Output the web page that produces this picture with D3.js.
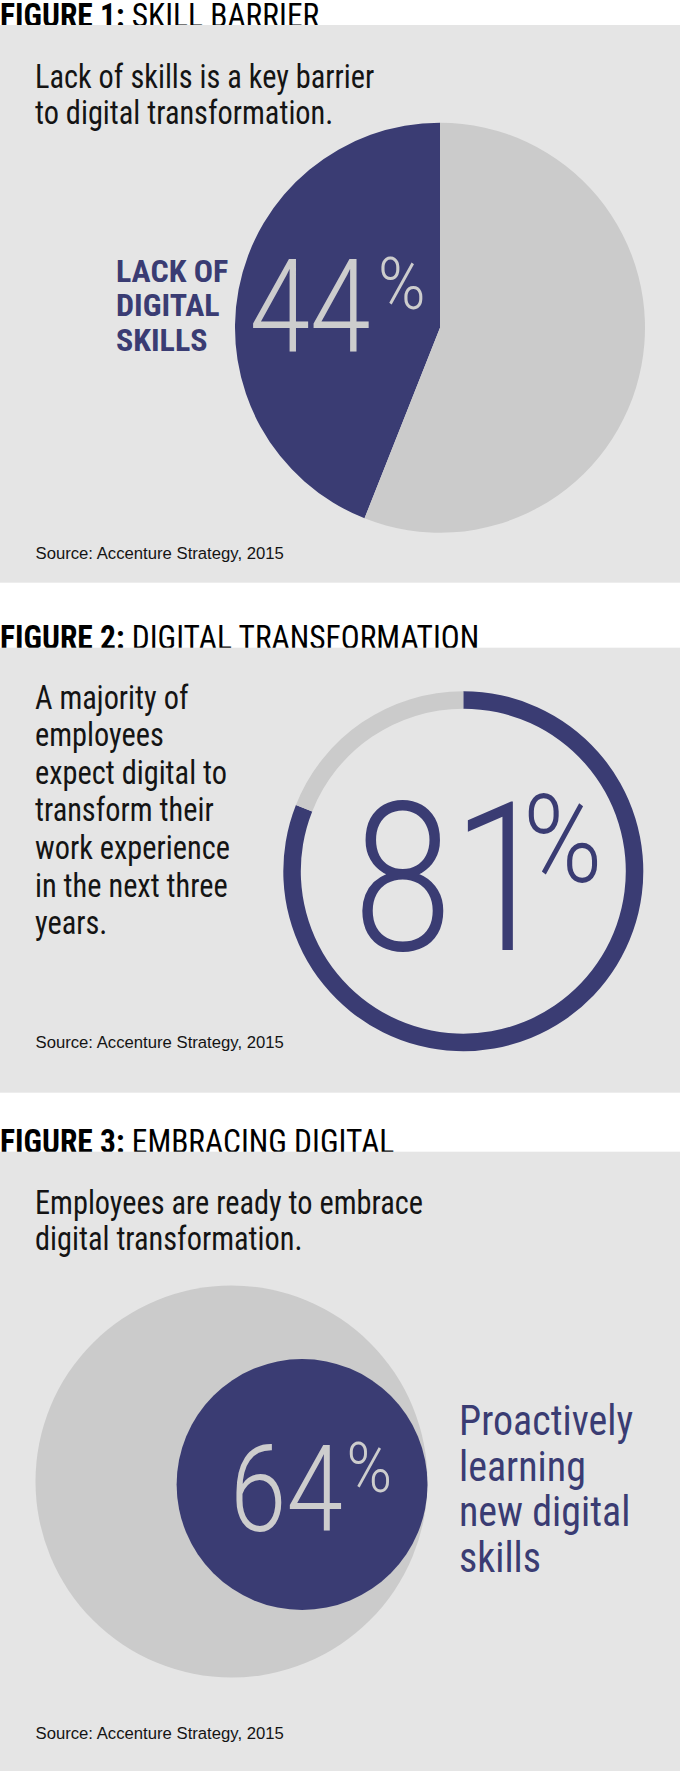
<!DOCTYPE html>
<html><head><meta charset="utf-8">
<script src="https://cdn.jsdelivr.net/npm/d3@7"></script>
<style>
html,body{margin:0;padding:0;background:#fff;}
svg{display:block;}
</style></head>
<body>
<svg id="chart" width="680" height="1771"></svg>
<script>
// ---------- data ----------
const figureLabels = ["FIGURE 1:", "FIGURE 2:", "FIGURE 3:"];
const figureTitles = ["SKILL BARRIER", "DIGITAL TRANSFORMATION", "EMBRACING DIGITAL"];
const subtitle1 = ["Lack of skills is a key barrier", "to digital transformation."];
const subtitle2 = ["A majority of", "employees", "expect digital to", "transform their", "work experience", "in the next three", "years."];
const subtitle3 = ["Employees are ready to embrace", "digital transformation."];
const categories1 = ["Lack of digital skills", "Other"];
const values1 = [44, 56];
const categories2 = ["Expect digital to transform work", "Other"];
const values2 = [81, 19];
const categories3 = ["All employees", "Proactively learning new digital skills"];
const values3 = [100, 64];
const label1 = ["LACK OF", "DIGITAL", "SKILLS"];
const label3 = ["Proactively", "learning", "new digital", "skills"];
const sourceText = "Source: Accenture Strategy, 2015";

// ---------- style ----------
const NAVY = "#3a3c73", PIEGRAY = "#cbcbcb", PANEL = "#e5e5e5", INK = "#141414", LIGHTNUM = "#cdcdcd";
const NARROW = "'Liberation Sans Narrow','Arial Narrow','Roboto Condensed',sans-serif";
const SANS = "'Liberation Sans',Arial,Helvetica,sans-serif";
const THIN = "Roboto,Lato,'Open Sans',sans-serif";

const svg = d3.select("#chart");
const panels = [[25, 582.7], [647.7, 1092.7], [1151.7, 1771]];

// titles (drawn first, panels overlap their foot)
panels.forEach((p, i) => {
  const t = svg.append("text")
    .attr("transform", `translate(0,${p[0] + 1.5}) scale(0.94,1)`)
    .attr("font-family", NARROW).attr("font-size", 33.5).attr("fill", "#000");
  t.append("tspan").attr("font-weight", 700).text(figureLabels[i]);
  t.append("tspan").attr("font-weight", 400).text(" " + figureTitles[i]);
});

// panels
svg.selectAll("rect.panel").data(panels).join("rect")
  .attr("class", "panel")
  .attr("x", 0).attr("y", d => d[0]).attr("width", 680).attr("height", d => d[1] - d[0])
  .attr("fill", PANEL);

function lines(arr, x, y0, dy, size, opts = {}) {
  const g = svg.append("g");
  arr.forEach((s, i) => {
    g.append("text")
      .attr("transform", `translate(${x},${y0 + i * dy}) scale(${opts.sx || 1},1)`)
      .attr("font-family", opts.family || NARROW)
      .attr("font-size", size)
      .attr("font-weight", opts.weight || 400)
      .attr("fill", opts.fill || INK)
      .text(s);
  });
  return g;
}

// ---------- Figure 1: pie ----------
const c1 = {x: 440, y: 327.7}, r1 = 205;
const share1 = values1[0] / d3.sum(values1);
const pie1 = d3.pie().sort(null)
  .startAngle(-share1 * 2 * Math.PI)
  .endAngle(2 * Math.PI - share1 * 2 * Math.PI);
const arc1 = d3.arc().innerRadius(0).outerRadius(r1);
const color1 = d3.scaleOrdinal().domain(categories1).range([NAVY, PIEGRAY]);
svg.append("g").attr("transform", `translate(${c1.x},${c1.y})`)
  .selectAll("path").data(pie1(values1)).join("path")
  .attr("d", arc1).attr("fill", (d, i) => color1(categories1[i]));

lines(subtitle1, 35, 87.5, 36, 33, {sx: 0.92});
lines(label1, 116, 282.1, 34.3, 32, {weight: 700, fill: NAVY});
svg.append("text").attr("transform", "translate(249.5,350.7) scale(0.84,1)")
  .attr("font-family", THIN).attr("font-weight", 300).attr("font-size", 130)
  .attr("fill", LIGHTNUM).text(values1[0]);
svg.append("text").attr("transform", "translate(378,309.3) scale(0.88,1)")
  .attr("font-family", THIN).attr("font-weight", 300).attr("font-size", 73)
  .attr("fill", LIGHTNUM).text("%");
lines([sourceText], 35.5, 559.3, 0, 16.7, {family: SANS});

// ---------- Figure 2: ring ----------
const c2 = {x: 463.3, y: 871.2};
const pie2 = d3.pie().sort(null);
const arc2 = d3.arc().innerRadius(162.5).outerRadius(180);
const color2 = d3.scaleOrdinal().domain(categories2).range([NAVY, PIEGRAY]);
svg.append("g").attr("transform", `translate(${c2.x},${c2.y})`)
  .selectAll("path").data(pie2(values2)).join("path")
  .attr("d", arc2).attr("fill", (d, i) => color2(categories2[i]));

lines(subtitle2, 35, 708.5, 37.6, 33, {sx: 0.92});
svg.append("text").attr("transform", "translate(353,950) scale(0.86,1)")
  .attr("font-family", THIN).attr("font-weight", 300).attr("font-size", 208)
  .attr("fill", NAVY).text(values2[0]);
svg.append("text").attr("transform", "translate(523,881.7) scale(0.88,1)")
  .attr("font-family", THIN).attr("font-weight", 300).attr("font-size", 122)
  .attr("fill", NAVY).text("%");
lines([sourceText], 35.5, 1048, 0, 16.7, {family: SANS});

// ---------- Figure 3: nested circles ----------
const rScale = d3.scaleLinear().domain([0, 100]).range([0, 196]);
const big = {x: 231.5, y: 1481.5};
const R = rScale(values3[0]), rs = rScale(values3[1]);
const circles = [
  {cx: big.x, cy: big.y, r: R, fill: PIEGRAY},
  {cx: big.x + R - rs, cy: big.y + 3, r: rs, fill: NAVY}
];
svg.append("g").selectAll("circle").data(circles).join("circle")
  .attr("cx", d => d.cx).attr("cy", d => d.cy).attr("r", d => d.r).attr("fill", d => d.fill);

lines(subtitle3, 35, 1213.6, 36.8, 33, {sx: 0.92});
svg.append("text").attr("transform", "translate(230,1531) scale(0.84,1)")
  .attr("font-family", THIN).attr("font-weight", 300).attr("font-size", 121)
  .attr("fill", LIGHTNUM).text(values3[1]);
svg.append("text").attr("transform", "translate(346.5,1491.7) scale(0.88,1)")
  .attr("font-family", THIN).attr("font-weight", 300).attr("font-size", 70)
  .attr("fill", LIGHTNUM).text("%");
lines(label3, 459, 1435, 45.5, 43, {fill: NAVY, sx: 0.93});
lines([sourceText], 35.5, 1739, 0, 16.7, {family: SANS});
</script>
</body></html>
